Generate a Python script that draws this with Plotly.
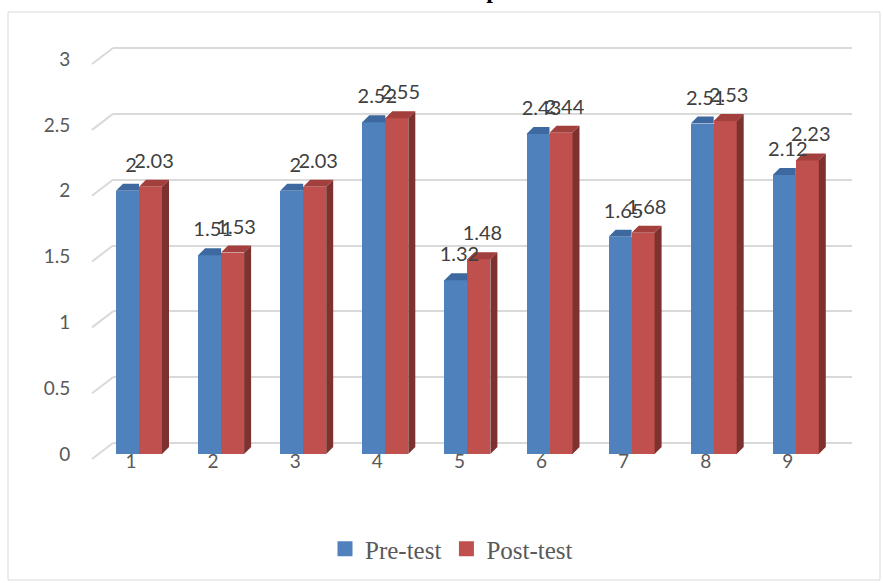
import plotly.graph_objects as go

# ---------------- data ----------------
categories = [1, 2, 3, 4, 5, 6, 7, 8, 9]
pre_test = [2, 1.51, 2, 2.52, 1.32, 2.43, 1.65, 2.51, 2.12]
post_test = [2.03, 1.53, 2.03, 2.55, 1.48, 2.44, 1.68, 2.53, 2.23]
y_ticks = [0, 0.5, 1, 1.5, 2, 2.5, 3]
y_tick_labels = ["0", "0.5", "1", "1.5", "2", "2.5", "3"]
series_names = ["Pre-test", "Post-test"]
title_text = "Comparison"

# ---------------- geometry / style ----------------
W, H = 883, 583
PL, PR, PT, PB = 113, 852, 40, 470          # plot area in pixels
PX_X = 82.1                                  # px per category
PX_Y = 131.65                                # px per unit
FRONT0 = 454                                 # pixel of value 0 on front plane
BACK0 = 443                                  # pixel of value 0 on back wall
FIRST_CENTER = 139                           # pixel of category 1 centre

x_lo = 1 + (PL - FIRST_CENTER) / PX_X
x_hi = x_lo + (PR - PL) / PX_X
y_lo = -(PB - FRONT0) / PX_Y
y_hi = (FRONT0 - PT) / PX_Y
y2_lo = -(PB - BACK0) / PX_Y
y2_hi = (BACK0 - PT) / PX_Y

bw = 23 / PX_X
dx = 7 / PX_X
dy = 7 / PX_Y

pre_front, pre_top = "#4F81BD", "#3D69A0"
post_front, post_top, post_side = "#C0504D", "#A3403D", "#7E3230"
grid_col = "#D9D9D9"
lab_font = dict(family="Lato", size=20, color="#404040")

fig = go.Figure()

pre_x = [c - bw / 2 for c in categories]
post_x = [c + bw / 2 for c in categories]

fig.add_trace(go.Bar(x=pre_x, y=pre_test, width=bw, name=series_names[0], showlegend=False,
                     marker=dict(color=pre_front, line=dict(width=0)), hoverinfo="skip"))
fig.add_trace(go.Bar(x=post_x, y=post_test, width=bw, name=series_names[1], showlegend=False,
                     marker=dict(color=post_front, line=dict(width=0)), hoverinfo="skip"))

# 3D faces
def top_faces(xs, vals, clip_right):
    px, py = [], []
    for xc, v in zip(xs, vals):
        x0, x1 = xc - bw / 2, xc + bw / 2
        if clip_right:
            px += [x0, x1, x1, x0 + dx, x0, None]
        else:
            px += [x0, x1, x1 + dx, x0 + dx, x0, None]
        py += [v, v, v + dy, v + dy, v, None]
    return px, py

def side_faces(xs, vals):
    px, py = [], []
    for xc, v in zip(xs, vals):
        x1 = xc + bw / 2
        px += [x1, x1, x1 + dx, x1 + dx, x1, None]
        py += [0, v, v + dy, dy, 0, None]
    return px, py

for (fx, fy), col in [(top_faces(pre_x, pre_test, True), pre_top),
                      (top_faces(post_x, post_test, False), post_top),
                      (side_faces(post_x, post_test), post_side)]:
    fig.add_trace(go.Scatter(x=fx, y=fy, mode="lines", fill="toself", fillcolor=col,
                             line=dict(width=0, color=col), showlegend=False,
                             hoverinfo="skip"))

# data labels
lab_off = 24 / PX_Y
fig.add_trace(go.Scatter(x=[x + dx / 2 for x in pre_x], y=[v + lab_off for v in pre_test],
                         text=[f"{v:g}" for v in pre_test], mode="text",
                         textposition="middle center", textfont=lab_font,
                         showlegend=False, hoverinfo="skip", cliponaxis=False))
fig.add_trace(go.Scatter(x=[x + dx / 2 for x in post_x], y=[v + lab_off for v in post_test],
                         text=[f"{v:g}" for v in post_test], mode="text",
                         textposition="middle center", textfont=lab_font,
                         showlegend=False, hoverinfo="skip", cliponaxis=False))

# legend entries (square swatches)
for name, col in zip(series_names, [pre_front, post_front]):
    fig.add_trace(go.Scatter(x=[None], y=[None], mode="markers", name=name,
                             marker=dict(symbol="square", size=15, color=col),
                             hoverinfo="skip"))

# invisible trace to activate the back-wall grid axis
fig.add_trace(go.Scatter(x=[None], y=[None], yaxis="y2", showlegend=False, hoverinfo="skip"))

# diagonal floor/wall grid stubs on the left (decoration)
shapes = []
for v in y_ticks:
    y_front = (PB - (FRONT0 + 5 - v * PX_Y)) / (PB - PT)
    y_back = (PB - (BACK0 - v * PX_Y)) / (PB - PT)
    shapes.append(dict(type="line", xref="x domain", yref="y domain",
                       x0=(92 - PL) / (PR - PL), x1=0, y0=y_front, y1=y_back,
                       line=dict(color=grid_col, width=2), layer="below"))
# chart border
shapes.append(dict(type="rect", xref="paper", yref="paper",
                   x0=8 / W, x1=880 / W, y0=1 - 580 / H, y1=1 - 12 / H,
                   line=dict(color="#D9D9D9", width=1), layer="below"))

fig.update_layout(
    width=W, height=H,
    margin=dict(l=0, r=0, t=0, b=0),
    paper_bgcolor="white", plot_bgcolor="rgba(0,0,0,0)",
    barmode="overlay", bargap=0,
    showlegend=True,
    legend=dict(orientation="h", xanchor="left", x=325 / W, yanchor="middle",
                y=1 - 549 / H, font=dict(family="Liberation Serif", size=25, color="#595959"),
                bgcolor="rgba(0,0,0,0)", traceorder="normal", itemsizing="trace"),
    xaxis=dict(domain=[PL / W, PR / W], range=[x_lo, x_hi], tickmode="array",
               tickvals=categories, ticktext=[str(c) for c in categories],
               showgrid=False, zeroline=False, showline=False, ticks="",
               tickfont=dict(family="Lato", size=19, color="#595959"),
               ticklabelshift=-8, ticklabelstandoff=-22),
    yaxis=dict(domain=[1 - PB / H, 1 - PT / H], range=[y_lo, y_hi], tickmode="array",
               tickvals=y_ticks, ticktext=y_tick_labels, showgrid=False, zeroline=False,
               showline=False, ticks="outside", ticklen=38, tickcolor="rgba(0,0,0,0)",
               tickfont=dict(family="Lato", size=19, color="#595959")),
    yaxis2=dict(overlaying="y", side="left", range=[y2_lo, y2_hi], tickmode="array",
                tickvals=y_ticks, showticklabels=False, showgrid=True, gridcolor=grid_col,
                gridwidth=2, zeroline=False, showline=False, ticks=""),
    shapes=shapes,
    annotations=[dict(text=f"<b>{title_text}</b>", xref="paper", yref="paper",
                      x=435 / W, xanchor="left", y=1 - 5 / H, yanchor="bottom",
                      showarrow=False,
                      font=dict(family="Liberation Serif", size=24, color="#000000"))],
)

fig.write_html("out.html", config={"displayModeBar": False},
               post_script="document.body.style.margin='0';")
